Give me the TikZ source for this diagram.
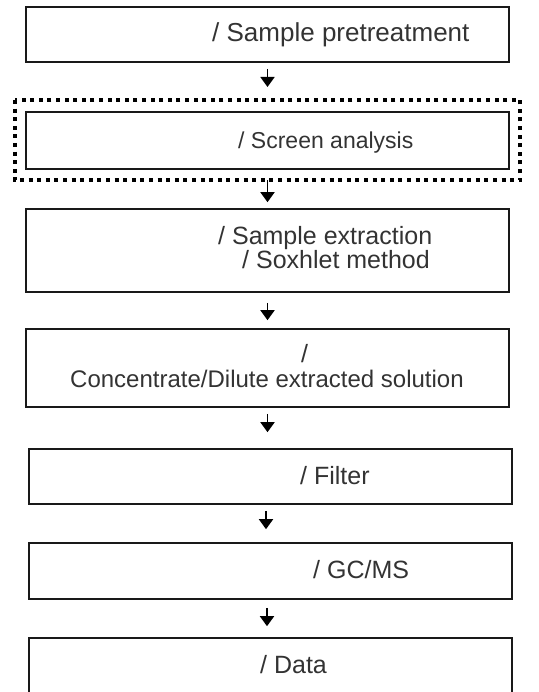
\documentclass[tikz,border=0pt]{standalone}
\usepackage{fontspec}
\setmainfont{Liberation Sans}
\usetikzlibrary{arrows.meta}
\begin{document}
\begin{tikzpicture}[x=1pt,y=-1pt,
  stepbox/.style={draw=black!90, line width=1.6pt, rectangle, minimum width=483pt, inner sep=0pt},
  lbl/.style={anchor=base west, inner sep=0pt, text=black!80, font=\fontsize{25}{30}\selectfont},
  lblsmall/.style={lbl, font=\fontsize{23}{27}\selectfont},
  frame/.style={draw=black, line width=4pt, dash pattern=on 4pt off 4.6pt},
  arr/.style={draw=black, line width=1.8pt, -{Triangle[length=10pt,width=14pt]}}]
\useasboundingbox (0,0) rectangle (538,692);
% boxes
\node[stepbox, minimum height=55pt] (b1) at (267.5,34.5) {};
\node[stepbox, minimum height=57pt] (b2) at (267.5,140.5) {};
\node[stepbox, minimum height=83pt] (b3) at (267.5,250.5) {};
\node[stepbox, minimum height=78pt] (b4) at (267.5,368) {};
\node[stepbox, minimum height=55pt] (b5) at (270.5,476.5) {};
\node[stepbox, minimum height=56pt] (b6) at (270.5,571) {};
\node[stepbox, minimum height=60pt] (b7) at (270.5,668) {};
% dotted frame around screen analysis
\draw[frame] (14.5,100) rectangle (520,180.5);
\coordinate (ftop) at (267.5,98);
\coordinate (fbot) at (267.5,180.5);
% labels
\node[lbl, font=\fontsize{26}{30}\selectfont] (t1) at (212,42) {/ Sample pretreatment};
\node[lblsmall] (t2) at (238,149) {/ Screen analysis};
\node[lbl] (t3a) at (218,244) {/ Sample extraction};
\node[lbl] (t3b) at (242,269) {/ Soxhlet method};
\node[lbl] (t4a) at (301,362) {/};
\node[lbl, font=\fontsize{24}{30}\selectfont] (t4b) at (70,387) {Concentrate/Dilute extracted solution};
\node[lbl] (t5) at (300,484) {/ Filter};
\node[lbl] (t6) at (313,578) {/ GC/MS};
\node[lbl] (t7) at (260,673) {/ Data};
% arrows
\draw[arr, shorten <=6pt, shorten >=11pt] (b1.south) -- (ftop);
\draw[arr, shorten >=6pt] (fbot) -- (b3.north);
\draw[arr, shorten <=10pt, shorten >=8pt] (b3.south) -- (b4.north);
\draw[arr, shorten <=6pt, shorten >=16pt] (b4.south) -- (b4.south |- b5.north);
\draw[arr, shorten <=6pt, shorten >=13pt] ([xshift=-4.5pt]b5.south) -- ([xshift=-4.5pt]b5.south |- b6.north);
\draw[arr, shorten <=8pt, shorten >=11pt] ([xshift=-3.5pt]b6.south) -- ([xshift=-3.5pt]b6.south |- b7.north);
\end{tikzpicture}
\end{document}
